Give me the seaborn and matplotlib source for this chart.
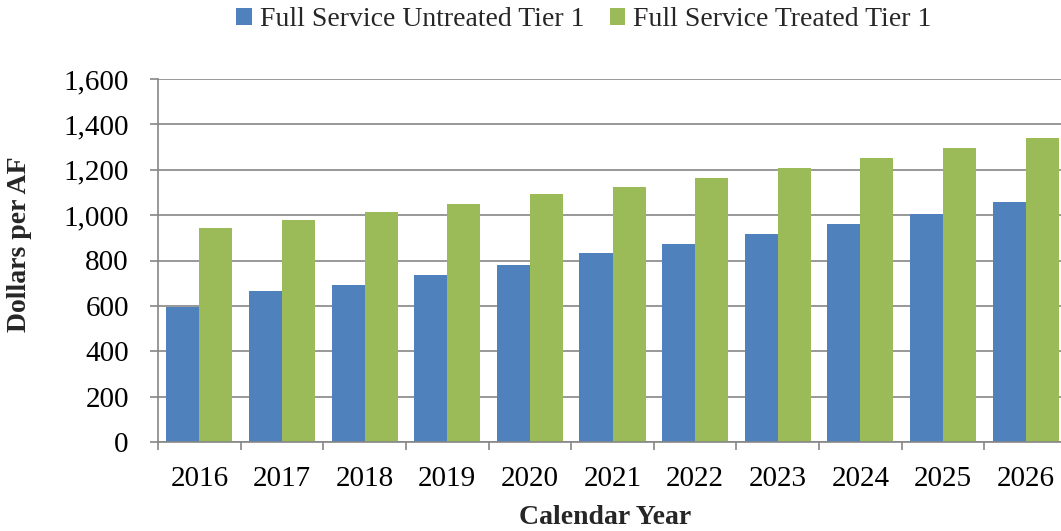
import matplotlib
matplotlib.use("Agg")
import matplotlib.pyplot as plt
import matplotlib.ticker as mticker
from matplotlib.patches import Patch
import seaborn as sns
import pandas as pd

years = ["2016", "2017", "2018", "2019", "2020", "2021", "2022", "2023", "2024", "2025", "2026"]
untreated = [595, 664, 690, 734, 778, 831, 874, 918, 962, 1006, 1059]
treated = [945, 980, 1015, 1050, 1094, 1122, 1163, 1208, 1252, 1296, 1340]
series_names = ["Full Service Untreated Tier 1", "Full Service Treated Tier 1"]
colors = ["#4F81BD", "#9BBB59"]

df = pd.DataFrame({
    "Year": years * 2,
    "Series": [series_names[0]] * len(years) + [series_names[1]] * len(years),
    "Value": untreated + treated,
})

sns.set_theme(style="white")
plt.rcParams["font.family"] = ["Liberation Serif", "DejaVu Serif"]

W, H = 1061, 531
fig = plt.figure(figsize=(W / 100, H / 100), dpi=100)
ax = fig.add_axes([158 / W, 1 - 442 / H, (1067 - 158) / W, (442 - 79) / H])

grid_c = "#868686"
sns.barplot(data=df, x="Year", y="Value", hue="Series", palette=colors,
            order=years, hue_order=series_names, width=0.8, ax=ax,
            legend=False, linewidth=0, saturation=1)

ax.set_ylim(0, 1600)
ax.set_xlim(-0.5, len(years) - 0.5)
ax.yaxis.set_major_locator(mticker.MultipleLocator(200))
ax.yaxis.set_major_formatter(mticker.FuncFormatter(lambda v, p: f"{int(v):,}"))
ax.set_axisbelow(True)
ax.grid(axis="y", color=grid_c, linewidth=1.2)
ax.grid(axis="x", visible=False)

for s in ["top", "right"]:
    ax.spines[s].set_visible(False)
for s in ["left", "bottom"]:
    ax.spines[s].set_color(grid_c)
    ax.spines[s].set_linewidth(1.2)

ax.xaxis.set_minor_locator(mticker.FixedLocator([i - 0.5 for i in range(len(years) + 1)]))
ax.tick_params(axis="x", which="major", length=0, pad=17, labelsize=21, colors="black")
ax.tick_params(axis="x", which="minor", length=6, width=1.2, color=grid_c, direction="out", bottom=True)
ax.tick_params(axis="y", which="major", length=6, width=1.2, color=grid_c, direction="out",
               left=True, pad=15, labelsize=21, labelcolor="black")

ax.set_xlabel("Calendar Year", fontsize=20, fontweight="bold")
ax.set_ylabel("Dollars per AF", fontsize=20, fontweight="bold")
ax.yaxis.set_label_coords((32 - 158) / (1067 - 158), (442 - 244) / (442 - 79))
ax.xaxis.set_label_coords((605 - 158) / (1067 - 158), -(518 - 442) / (442 - 79))
ax.xaxis.label.set_va("center")

handles = [Patch(facecolor=c, edgecolor="none") for c in colors]
fig.legend(handles, series_names, loc="center", bbox_to_anchor=(584 / W, 1 - 20 / H),
           ncol=2, frameon=False, fontsize=20, handlelength=0.55, handleheight=0.55,
           handletextpad=0.3, columnspacing=0.9, borderaxespad=0)

fig.savefig("out.png", dpi=100)
